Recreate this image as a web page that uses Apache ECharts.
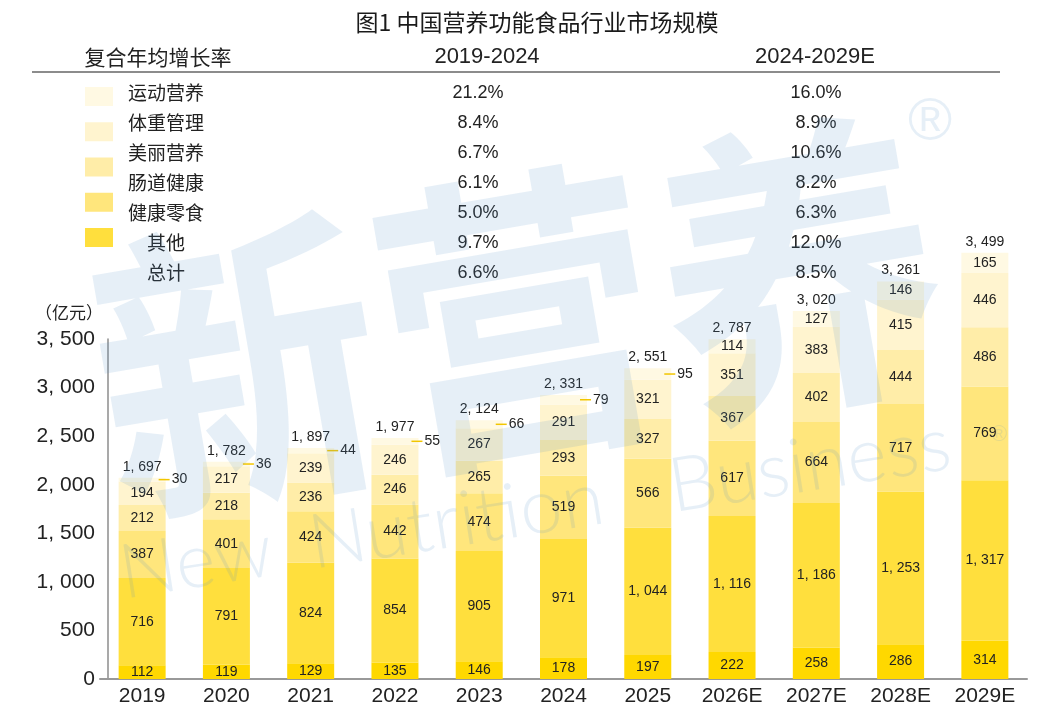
<!DOCTYPE html>
<html><head><meta charset="utf-8">
<script src="https://cdn.jsdelivr.net/npm/echarts@6/dist/echarts.min.js"></script>
<style>html,body{margin:0;padding:0;background:#fff}#c{width:1062px;height:723px}</style>
</head><body><div id="c"></div>
<script>
// ---- data ----
const categories = ['2019','2020','2021','2022','2023','2024','2025','2026E','2027E','2028E','2029E'];
const other       = [112,119,129,135,146,178,197,222,258,286,314];
const healthSnack = [716,791,824,854,905,971,1044,1116,1186,1253,1317];
const gutHealth   = [387,401,424,442,474,519,566,617,664,717,769];
const beauty      = [212,218,236,246,265,293,327,367,402,444,486];
const weightMgmt  = [194,217,239,246,267,291,321,351,383,415,446];
const sports      = [30,36,44,55,66,79,95,114,127,146,165];
const totals      = [1697,1782,1897,1977,2124,2331,2551,2787,3020,3261,3499];
const seriesNames = ['其他','健康零食','肠道健康','美丽营养','体重管理','运动营养'];
const tableRows   = ['运动营养','体重管理','美丽营养','肠道健康','健康零食','其他','总计'];
const cagrA       = ['21.2%','8.4%','6.7%','6.1%','5.0%','9.7%','6.6%'];
const cagrB       = ['16.0%','8.9%','10.6%','8.2%','6.3%','12.0%','8.5%'];
const colHeaders  = ['复合年均增长率','2019-2024','2024-2029E'];
const titleText   = '图1 中国营养功能食品行业市场规模';
const yAxisName   = '（亿元）';
const wmMain      = '新营养';
const wmWords     = ['New','Nutrition','Business'];

// ---- styles ----
const colors = ['#ffd800','#ffdf3d','#ffe67c','#ffeda8','#fff4cf','#fff9e3'];
const CJK = '"Noto Sans CJK SC"';
const NUM = '"Liberation Sans", Arial, sans-serif';
const fmt = v => v >= 1000 ? Math.floor(v/1000) + ', ' + String(v % 1000).padStart(3,'0') : String(v);

const seriesData = [other, healthSnack, gutHealth, beauty, weightMgmt, sports];
const labelBase = {show:true, position:'inside', color:'#222', fontSize:14, fontFamily:NUM, formatter: p => fmt(p.value)};

const series = seriesNames.map((name, k) => ({
  type:'bar', name, stack:'total', yAxisIndex:1, barWidth:47, clip:false,
  itemStyle:{color: colors[k]},
  label: labelBase,
  data: seriesData[k].map(v => (k === 5 && v < 100) ? {
    value: v,
    label: {
      position:'right', distance:0, offset:[-7,0],
      formatter: '{l|}{v|' + fmt(v) + '}',
      rich: {
        l: {width:11, height:1.5, backgroundColor:'#f2c600'},
        v: {fontSize:14, color:'#222', fontFamily:NUM, padding:[0,0,0,2]}
      }
    }
  } : v)
}));
series.push({
  type:'bar', name:'总计', stack:'total', yAxisIndex:1, barWidth:47, clip:false, silent:true,
  itemStyle:{color:'transparent'},
  data: totals.map(() => 0),
  label: {show:true, position:'top', distance:4, color:'#222', fontSize:14, fontFamily:NUM,
          formatter: p => fmt(totals[p.dataIndex])}
});

// table texts
const graphic = [];
graphic.push({type:'text', x:537, y:22, style:{text:titleText, font:'23px ' + CJK, fill:'#1a1a1a', textAlign:'center', textVerticalAlign:'middle'}});
graphic.push({type:'text', x:158, y:57, style:{text:colHeaders[0], font:'21px ' + CJK, fill:'#222', textAlign:'center', textVerticalAlign:'middle'}});
graphic.push({type:'text', x:487, y:57, style:{text:colHeaders[1], font:'22px ' + NUM, fill:'#222', textAlign:'center', textVerticalAlign:'middle'}});
graphic.push({type:'text', x:815, y:57, style:{text:colHeaders[2], font:'22px ' + NUM, fill:'#222', textAlign:'center', textVerticalAlign:'middle'}});
graphic.push({type:'line', shape:{x1:32, y1:72, x2:1000, y2:72}, style:{stroke:'#666', lineWidth:1.5}});
tableRows.forEach((r, i) => {
  const y = 93 + 30 * i;
  graphic.push({type:'text', x:166, y, style:{text:r, font:'19px ' + CJK, fill:'#222', textAlign:'center', textVerticalAlign:'middle'}});
  graphic.push({type:'text', x:478, y, style:{text:cagrA[i], font:'18px ' + NUM, fill:'#222', textAlign:'center', textVerticalAlign:'middle'}});
  graphic.push({type:'text', x:816, y, style:{text:cagrB[i], font:'18px ' + NUM, fill:'#222', textAlign:'center', textVerticalAlign:'middle'}});
});
// watermark
const wm = 'rgba(90,150,200,0.15)';
graphic.push({type:'text', z:100, silent:true, x:518, y:318, rotation:0.17, scaleY:1.08,
  style:{text:wmMain, font:'bold 285px ' + CJK, fill:wm, textAlign:'center', textVerticalAlign:'middle'}});
graphic.push({type:'group', z:100, silent:true, x:126, y:612, rotation:0.156,
  children: wmWords.map((w, i) => ({type:'text', z:100, x:[0, 192, 556][i], y:0,
    style:{text:w, font:'300 76px Lato, sans-serif', fill:wm, textAlign:'left', textVerticalAlign:'bottom'}}))});
graphic.push({type:'text', z:100, silent:true, x:930, y:123, style:{text:'®', font:'60px ' + NUM, fill:wm, textAlign:'center', textVerticalAlign:'middle'}});
graphic.push({type:'text', z:100, silent:true, x:999, y:435, style:{text:'®', font:'22px ' + NUM, fill:wm, textAlign:'center', textVerticalAlign:'middle'}});

const chart = echarts.init(document.getElementById('c'));
chart.setOption({
  animation:false,
  backgroundColor:'#fff',
  legend: {
    data: ['运动营养','体重管理','美丽营养','肠道健康','健康零食'],
    orient:'vertical', left:85, top:87, padding:0,
    itemWidth:28, itemHeight:19, itemGap:16.25, icon:'rect',
    formatter: () => '', textStyle:{fontSize:6}, selectedMode:false
  },
  grid: {left:100, right:35, top:339, bottom:44},
  xAxis: {
    type:'category', data:categories,
    axisLine:{lineStyle:{color:'#999', width:2}}, axisTick:{show:false},
    axisLabel:{fontSize:21, color:'#222', margin:7, fontFamily:NUM}
  },
  yAxis: [
    {type:'value', min:0, max:3500, interval:500, offset:-8,
     axisLine:{show:true, lineStyle:{color:'#8c8c8c', width:1.5}}, axisTick:{show:false}, splitLine:{show:false},
     axisLabel:{margin:13, fontSize:21, color:'#222', fontFamily:NUM, formatter: v => fmt(v)},
     name:yAxisName, nameLocation:'end', nameGap:18,
     nameTextStyle:{align:'right', padding:[0,5,0,0], fontSize:17, color:'#222', fontFamily:CJK}},
    {type:'value', min:0, max:2790, show:false}
  ],
  graphic,
  series
});
</script></body></html>
